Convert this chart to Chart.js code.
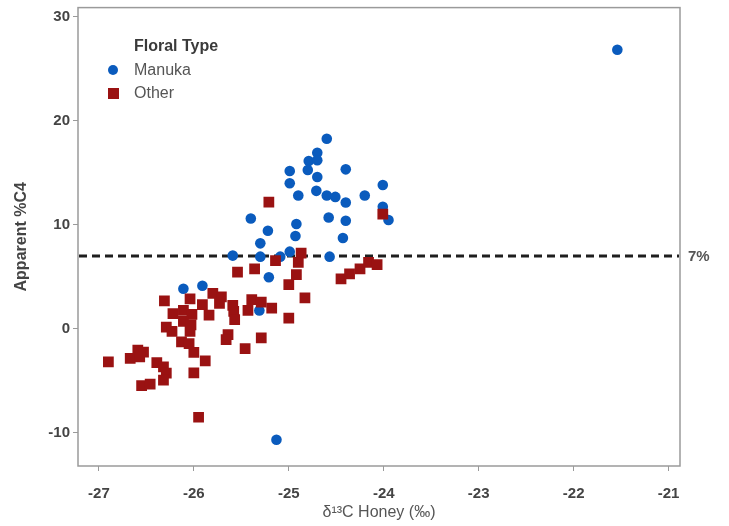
<!DOCTYPE html>
<html>
<head>
<meta charset="utf-8">
<script src="https://cdn.jsdelivr.net/npm/chart.js@4.4.1/dist/chart.umd.min.js"></script>
<style>
  html, body { margin: 0; padding: 0; background: #fff; }
  #wrap { width: 729px; height: 526px; }
</style>
</head>
<body>
<div id="wrap"><canvas id="c" width="729" height="526"></canvas></div>
<script>
// ---- Data ----
const MANUKA_X = [-21.54, -24.60, -24.70, -24.79, -24.70, -24.99, -24.80, -24.40, -24.70, -24.99,
  -24.01, -24.90, -24.71, -24.60, -24.51, -24.40, -24.20, -25.40, -24.01, -23.95,
  -24.58, -24.40, -24.92, -25.22, -24.93, -24.43, -25.30, -24.99, -25.09, -25.30,
  -25.59, -24.57, -25.21, -26.11, -25.91, -25.31, -25.13];
const MANUKA_Y = [26.84, 18.28, 16.93, 16.14, 16.21, 15.18, 15.28, 15.34, 14.61, 14.00,
  13.84, 12.82, 13.27, 12.82, 12.69, 12.15, 12.82, 10.61, 11.73, 10.46,
  10.71, 10.39, 10.08, 9.43, 8.93, 8.74, 8.22, 7.42, 6.94, 6.94,
  7.04, 6.94, 4.96, 3.85, 4.14, 1.77, -10.68];

const OTHER_X = [-25.21, -24.01, -24.87, -24.90, -25.14, -25.54, -25.36, -24.92, -25.00, -24.45,
  -24.36, -24.25, -24.16, -24.07, -24.83, -25.00, -25.18, -25.43, -25.39, -25.29,
  -25.59, -25.58, -25.57, -25.64, -25.66, -25.29, -25.46, -26.31, -26.04, -25.80,
  -25.71, -25.91, -25.73, -26.22, -26.11, -26.02, -25.84, -26.11, -26.03, -26.29,
  -26.23, -26.04, -26.13, -26.05, -26.00, -25.88, -26.00, -25.95, -26.90, -26.67,
  -26.59, -26.53, -26.57, -26.39, -26.32, -26.29, -26.32, -26.55, -26.46];
const OTHER_Y = [12.18, 11.03, 7.28, 6.40, 6.56, 5.44, 5.77, 5.22, 4.24, 4.81,
  5.29, 5.77, 6.40, 6.18, 2.97, 1.03, 1.99, 1.77, 2.80, 2.57,
  2.25, 1.68, 0.88, -0.56, -1.05, -0.88, -1.90, 2.68, 2.89, 3.40,
  3.08, 2.32, 2.44, 1.46, 1.77, 1.39, 1.31, 0.72, 0.38, 0.17,
  -0.24, -0.24, -1.26, -1.42, -2.27, -3.09, -4.23, -8.51, -3.18, -2.85,
  -2.06, -2.25, -2.70, -3.26, -3.66, -4.26, -4.93, -5.46, -5.32];

const X_TICKS = [-27, -26, -25, -24, -23, -22, -21];
const Y_TICKS = [-10, 0, 10, 20, 30];
const THRESHOLD = 7;
const THRESHOLD_LABEL = '7%';
const SERIES_NAMES = ['Manuka', 'Other'];
const LEGEND_TITLE = 'Floral Type';
const X_TITLE = 'δ¹³C Honey (‰)';
const Y_TITLE = 'Apparent %C4';

const BLUE = '#0a5bbd';
const RED = '#9a1212';
const FONT = "'Liberation Sans Narrow', 'Liberation Sans', Arial, sans-serif";
const FONT_W = "'Liberation Sans', Arial, sans-serif";

const toPts = (xs, ys) => xs.map((x, i) => ({ x: x, y: ys[i] }));

const decor = {
  id: 'decor',
  beforeDatasetsDraw(chart) {
    const { ctx, chartArea: a, scales } = chart;
    const yp = scales.y.getPixelForValue(THRESHOLD);
    ctx.save();
    ctx.strokeStyle = '#1e1e1e';
    ctx.lineWidth = 3;
    ctx.setLineDash([8, 5]);
    ctx.beginPath();
    ctx.moveTo(a.left + 1, yp);
    ctx.lineTo(a.right - 1, yp);
    ctx.stroke();
    ctx.restore();
  },
  afterDraw(chart) {
    const { ctx, chartArea: a, scales } = chart;
    ctx.save();
    ctx.strokeStyle = '#9a9a9a';
    ctx.lineWidth = 1.5;
    ctx.strokeRect(a.left, a.top, a.right - a.left, a.bottom - a.top);
    const yp = scales.y.getPixelForValue(THRESHOLD);
    ctx.fillStyle = '#555';
    ctx.font = "bold 15px " + FONT;
    ctx.textBaseline = 'middle';
    ctx.textAlign = 'left';
    ctx.fillText(THRESHOLD_LABEL, a.right + 8, yp + 1);
    // legend
    ctx.fillStyle = '#3a3a3a';
    ctx.font = "bold 16px " + FONT;
    ctx.fillText(LEGEND_TITLE, 134, 47);
    ctx.fillStyle = '#555';
    ctx.font = "16px " + FONT_W;
    ctx.fillText(SERIES_NAMES[0], 134, 71);
    ctx.fillText(SERIES_NAMES[1], 134, 94);
    ctx.fillStyle = BLUE;
    ctx.beginPath();
    ctx.arc(113, 70, 5, 0, Math.PI * 2);
    ctx.fill();
    ctx.fillStyle = RED;
    ctx.fillRect(108, 88, 11, 11);
    ctx.restore();
  }
};

new Chart(document.getElementById('c'), {
  type: 'scatter',
  data: {
    datasets: [
      {
        label: SERIES_NAMES[1],
        data: toPts(OTHER_X, OTHER_Y),
        pointStyle: 'rect',
        pointRadius: 7.6,
        pointHoverRadius: 7.6,
        backgroundColor: RED,
        borderColor: RED,
        borderWidth: 0
      },
      {
        label: SERIES_NAMES[0],
        data: toPts(MANUKA_X, MANUKA_Y),
        pointStyle: 'circle',
        pointRadius: 5.3,
        pointHoverRadius: 5.3,
        backgroundColor: BLUE,
        borderColor: BLUE,
        borderWidth: 0
      }
    ]
  },
  plugins: [decor],
  options: {
    responsive: false,
    animation: false,
    devicePixelRatio: 1,
    layout: { padding: { top: 6, right: 49, left: 0, bottom: 0 } },
    plugins: {
      legend: { display: false },
      tooltip: { enabled: false }
    },
    scales: {
      x: {
        type: 'linear',
        min: -27.22,
        max: -20.88,
        afterBuildTicks: s => { s.ticks = X_TICKS.map(v => ({ value: v })); },
        afterFit: s => { s.height = 60; s.paddingLeft = 0; s.paddingRight = 0; },
        grid: { display: true, drawOnChartArea: false, drawTicks: true, tickLength: 5, color: '#9a9a9a', lineWidth: 1 },
        border: { display: false },
        ticks: {
          color: '#444',
          font: { family: FONT, size: 15, weight: 'bold' },
          padding: 14,
          maxRotation: 0,
          autoSkip: false
        },
        title: {
          display: true,
          text: X_TITLE,
          color: '#555',
          font: { family: FONT, size: 16 },
          padding: { top: 4 }
        }
      },
      y: {
        type: 'linear',
        min: -13.2,
        max: 30.9,
        afterBuildTicks: s => { s.ticks = Y_TICKS.map(v => ({ value: v })); },
        afterFit: s => { s.width = 78; s.paddingTop = 0; s.paddingBottom = 0; },
        grid: { display: true, drawOnChartArea: false, drawTicks: true, tickLength: 5, color: '#9a9a9a', lineWidth: 1 },
        border: { display: false },
        ticks: {
          color: '#444',
          font: { family: FONT, size: 15, weight: 'bold' },
          padding: 3,
          autoSkip: false
        },
        title: {
          display: true,
          text: Y_TITLE,
          color: '#444',
          font: { family: FONT_W, size: 16, weight: 'bold' },
          padding: { top: 12, bottom: 6 }
        }
      }
    }
  }
});
</script>
</body>
</html>
